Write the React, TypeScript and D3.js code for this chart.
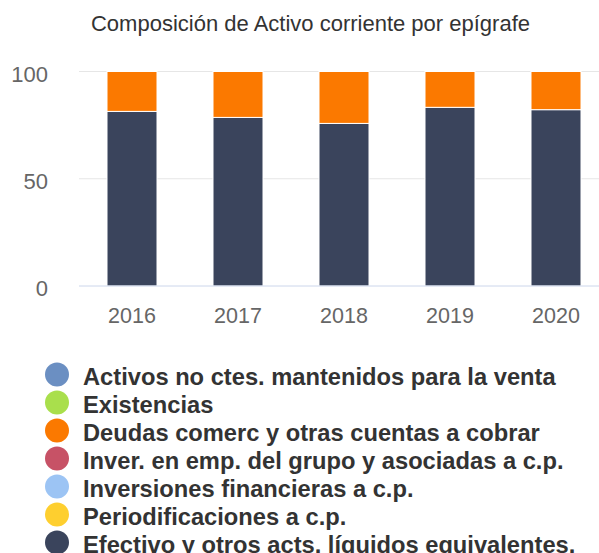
import React from "react";
import * as d3 from "d3";

const years = ["2016", "2017", "2018", "2019", "2020"];
const seriesNames = [
  "Activos no ctes. mantenidos para la venta",
  "Existencias",
  "Deudas comerc y otras cuentas a cobrar",
  "Inver. en emp. del grupo y asociadas a c.p.",
  "Inversiones financieras a c.p.",
  "Periodificaciones a c.p.",
  "Efectivo y otros acts. líquidos equivalentes.",
];
const seriesColors = ["#6b8fc2", "#a9df4c", "#fb7900", "#c75266", "#9cc4f4", "#fecf2f", "#3a445c"];
const activosVenta = [0, 0, 0, 0, 0];
const existencias = [0, 0, 0, 0, 0];
const deudas = [18.6, 21.4, 24.2, 16.7, 17.8];
const inverGrupo = [0, 0, 0, 0, 0];
const inverFin = [0, 0, 0, 0, 0];
const periodif = [0, 0, 0, 0, 0];
const efectivo = [81.4, 78.6, 75.8, 83.3, 82.2];
const yTicks = [0, 50, 100];

const W = 599;
const H = 553;

export default function App() {
  const values = [activosVenta, existencias, deudas, inverGrupo, inverFin, periodif, efectivo];
  const rows = years.map((y, i) => {
    const r: any = { year: y };
    seriesNames.forEach((n, k) => (r[n] = values[k][i]));
    return r;
  });
  const stackKeys = [...seriesNames].reverse();
  const stacked = d3.stack<any>().keys(stackKeys)(rows);

  const x = d3.scaleBand().domain(years).range([79, 609]).padding(0);
  const y = d3.scaleLinear().domain([0, 100]).range([286, 71.5]);
  const barW = 50;
  const font = "'Liberation Sans', Arial, sans-serif";

  return (
    <svg width={W} height={H} style={{ position: "absolute", left: 0, top: 0 }} fontFamily={font}>
      <text x={310.5} y={31} textAnchor="middle" fontSize={22} fill="#333">
        Composición de Activo corriente por epígrafe
      </text>
      {yTicks.map((t) => (
        <g key={t}>
          {t !== 0 && (
            <line x1={79} x2={W} y1={y(t)} y2={y(t)} stroke="#e6e6e6" strokeWidth={1} />
          )}
          <text x={48} y={y(t) + 10} textAnchor="end" fontSize={22} fill="#666">
            {t}
          </text>
        </g>
      ))}
      {stacked.map((s) => {
        const color = seriesColors[seriesNames.indexOf(s.key)];
        return (
          <g key={s.key}>
            {s.map((d, i) => {
              const h = y(d[0]) - y(d[1]);
              if (h <= 0) return null;
              const cx = (x(years[i]) as number) + x.bandwidth() / 2;
              return (
                <rect
                  key={i}
                  x={cx - barW / 2}
                  y={y(d[1])}
                  width={barW}
                  height={h}
                  fill={color}
                  stroke="#fff"
                  strokeWidth={1}
                />
              );
            })}
          </g>
        );
      })}
      <line x1={79} x2={W} y1={286} y2={286} stroke="#ccd6eb" strokeWidth={1} />
      {years.map((yr) => (
        <text
          key={yr}
          x={(x(yr) as number) + x.bandwidth() / 2}
          y={323}
          textAnchor="middle"
          fontSize={21.5}
          fill="#666"
        >
          {yr}
        </text>
      ))}
      {seriesNames.map((n, i) => (
        <g key={n} transform={`translate(0, ${374.5 + i * 28})`}>
          <circle cx={57} cy={0} r={12} fill={seriesColors[i]} />
          <text x={83} y={10.5} fontSize={23.7} fontWeight="bold" fill="#333">
            {n}
          </text>
        </g>
      ))}
    </svg>
  );
}
